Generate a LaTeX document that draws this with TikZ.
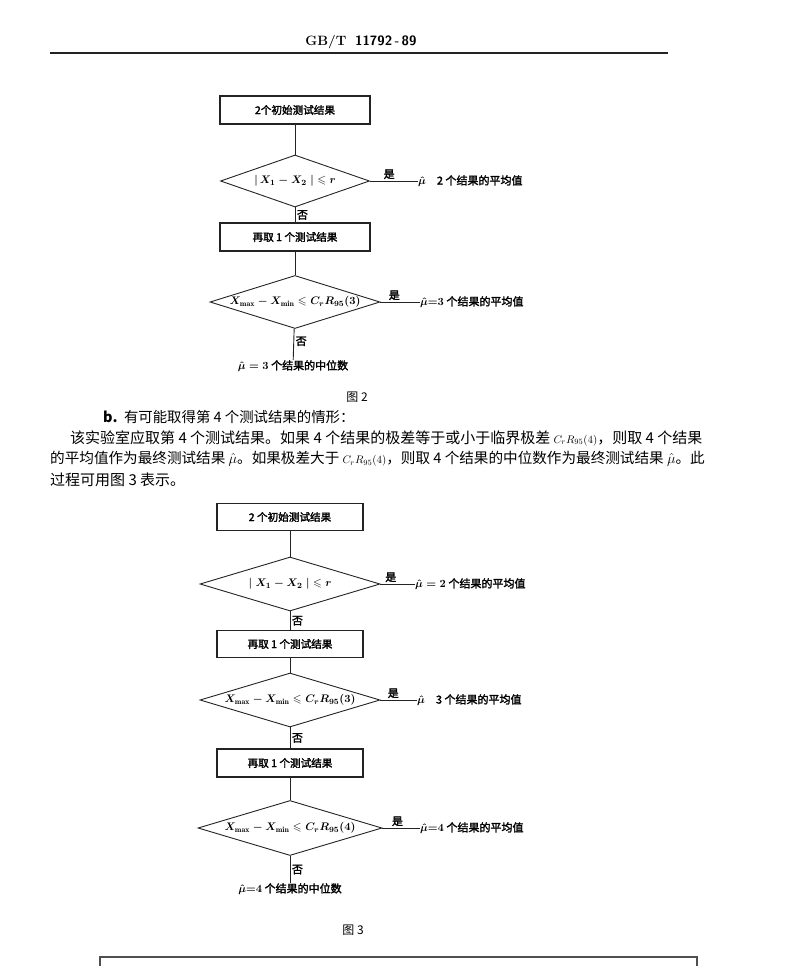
\documentclass[tikz,border=0pt]{standalone}
\usepackage{fontspec}
\usepackage{amsmath, amssymb}
\newfontfamily\cjk{Noto Sans CJK SC}
\newfontfamily\cjkbold{Noto Sans CJK SC}[FakeBold=2]
\usetikzlibrary{shapes.geometric, positioning}
\definecolor{scanink}{RGB}{35, 35, 35}
\tikzset{
    stepbox/.style={draw=scanink, rectangle, line width=1.1pt, minimum width=150pt, minimum height=28pt, inner sep=0pt, font=\cjkbold\fontsize{10.6}{12}\selectfont},
    decision/.style={draw=scanink, diamond, line width=0.9pt, inner sep=0pt, font=\fontsize{11.3}{13}\selectfont\boldmath},
    resultnote/.style={inner sep=0pt, font=\cjkbold\fontsize{11}{13}\selectfont\boldmath},
    flowline/.style={draw=scanink, line width=0.9pt},
    yesno/.style={inner sep=1.5pt, font=\cjkbold\fontsize{11}{12}\selectfont},
    bodytext/.style={anchor=west, inner sep=0pt, font=\cjk\fontsize{15}{17}\selectfont},
    figcaption/.style={inner sep=0pt, font=\cjk\fontsize{12}{14}\selectfont},
}
\newcommand{\crit}[1]{{\fontsize{11}{13}\selectfont$C_rR_{95}(#1)$}}
\begin{document}
\begin{tikzpicture}[x=1pt, y=-1pt]
\useasboundingbox (0,0) rectangle (800,966);
% page header
\node[inner sep=0pt, font=\fontsize{13.5}{15}\selectfont] (header) at (361,42) {\textbf{GB/T}\ \ {\sffamily\bfseries 11792\,-\,89}};
\draw[scanink, line width=1.2pt] (50,53) -- (668,53);

% figure 2
\node[stepbox] (init2) at (295,110) {2个初始测试结果};
\node[decision, minimum width=149pt, minimum height=52pt, aspect=2.9] (diffA) at (295,181) {$|\,X_1-X_2\;|\leqslant r$};
\node[stepbox] (more2) at (295,237) {再取 1 个测试结果};
\node[decision, minimum width=170pt, minimum height=53pt, aspect=3.2] (rangeB) at (295,302) {$X_{\mathrm{max}}-X_{\mathrm{min}}\leqslant C_rR_{95}(3)$};
\node[resultnote, anchor=west] (meanA) at (418,181) {$\hat{\mu}$\quad 2 个结果的平均值};
\node[resultnote, anchor=west] (meanB) at (420,302) {$\hat{\mu}{=}3$ 个结果的平均值};
\node[resultnote] (medB) at (293,366) {$\hat{\mu}=3$ 个结果的中位数};
\node[figcaption] (cap2) at (357,397) {图 2};

\draw[flowline] (init2) -- (diffA);
\draw[flowline] (diffA) -- node[yesno, right] {否} (more2);
\draw[flowline] (more2) -- (rangeB);
\draw[flowline] (rangeB) -- node[yesno, right, pos=0.4] {否} (medB);
\draw[flowline] (diffA.east) -- node[yesno, above, pos=0.4] {是} (meanA.west);
\draw[flowline] (rangeB.east) -- node[yesno, above, pos=0.35] {是} (meanB.west);

% text between the figures
\node[bodytext, font=\cjk\fontsize{14.4}{17}\selectfont] (itemb) at (103,417) {\textbf{b.}\ \ 有可能取得第 4 个测试结果的情形：};
\node[bodytext] (line1) at (70,438) {该实验室应取第 4 个测试结果。如果 4 个结果的极差等于或小于临界极差 \crit{4}，则取 4 个结果};
\node[bodytext, font=\cjk\fontsize{14.6}{17}\selectfont] (line2) at (50,459) {的平均值作为最终测试结果 $\hat{\mu}$。如果极差大于 \crit{4}，则取 4 个结果的中位数作为最终测试结果 $\hat{\mu}$。此};
\node[bodytext] (line3) at (50,480) {过程可用图 3 表示。};

% figure 3
\node[stepbox, minimum width=146pt, minimum height=27pt] (init3) at (290,517) {2 个初始测试结果};
\node[decision, minimum width=180pt, minimum height=54pt, aspect=3.3] (diffC) at (290,584) {$|\;X_1-X_2\;|\leqslant r$};
\node[stepbox, minimum width=146pt, minimum height=27pt] (more3) at (290,644) {再取 1 个测试结果};
\node[decision, minimum width=180pt, minimum height=54pt, aspect=3.3] (rangeD) at (290,700) {$X_{\mathrm{max}}-X_{\mathrm{min}}\leqslant C_rR_{95}(3)$};
\node[stepbox, minimum width=146pt, minimum height=28pt] (again3) at (290,763) {再取 1 个测试结果};
\node[decision, minimum width=184pt, minimum height=55pt, aspect=3.3] (rangeE) at (290,828) {$X_{\mathrm{max}}-X_{\mathrm{min}}\leqslant C_rR_{95}(4)$};
\node[resultnote, anchor=west] (meanC) at (415,584) {$\hat{\mu}=2$ 个结果的平均值};
\node[resultnote, anchor=west] (meanD) at (417,700) {$\hat{\mu}$\quad 3 个结果的平均值};
\node[resultnote, anchor=west] (meanE) at (420,828) {$\hat{\mu}{=}4$ 个结果的平均值};
\node[resultnote] (medE) at (290,889) {$\hat{\mu}{=}4$ 个结果的中位数};
\node[figcaption] (cap3) at (353,930) {图 3};

\draw[flowline] (init3) -- (diffC);
\draw[flowline] (diffC) -- node[yesno, right] {否} (more3);
\draw[flowline] (more3) -- (rangeD);
\draw[flowline] (rangeD) -- node[yesno, right] {否} (again3);
\draw[flowline] (again3) -- (rangeE);
\draw[flowline] (rangeE) -- node[yesno, right] {否} (medE);
\draw[flowline] (diffC.east) -- node[yesno, above, pos=0.3] {是} (meanC.west);
\draw[flowline] (rangeD.east) -- node[yesno, above, pos=0.35] {是} (meanD.west);
\draw[flowline] (rangeE.east) -- node[yesno, above, pos=0.4] {是} (meanE.west);

% frame at the foot of the page
\draw[scanink!80, line width=1.6pt] (100,975) |- (697,957) -- (697,975);
\end{tikzpicture}
\end{document}
